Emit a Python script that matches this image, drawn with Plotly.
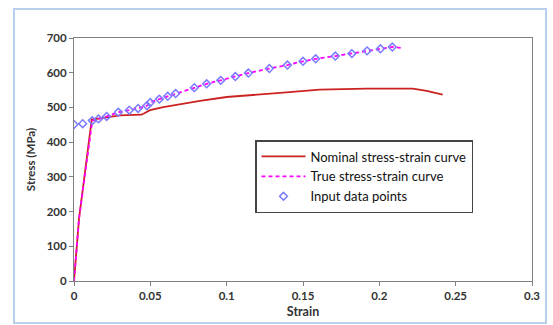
import plotly.graph_objects as go

# Nominal stress-strain curve
nom_strain = [0, 0.0033, 0.0116, 0.0214, 0.030, 0.0443, 0.0498, 0.0585, 0.0716, 0.0825, 0.10, 0.12, 0.135, 0.161, 0.1917, 0.222, 0.231, 0.2415]
nom_stress = [0, 180, 465, 471, 477, 479, 492, 501, 511, 519, 530, 538, 542, 551, 554, 554, 548, 537]

# True stress-strain curve
true_strain = [0, 0.0033, 0.012, 0.016, 0.0214, 0.029, 0.0362, 0.042, 0.0478, 0.050, 0.0559, 0.0614, 0.0666, 0.0788, 0.0869, 0.0961, 0.1057, 0.1142, 0.128, 0.1398, 0.150, 0.1583, 0.1712, 0.182, 0.192, 0.2007, 0.2085, 0.2157]
true_stress = [0, 180, 462, 467, 474, 486, 492, 497, 505, 514, 524, 532, 540, 557, 568, 578, 589, 599, 612, 622, 633, 640, 648, 655, 663, 669, 674, 671]

# Input data points
pts_strain = [0, 0.0057, 0.012, 0.016, 0.0214, 0.029, 0.0362, 0.042, 0.0478, 0.050, 0.0559, 0.0614, 0.0666, 0.0788, 0.0869, 0.0961, 0.1057, 0.1142, 0.128, 0.1398, 0.150, 0.1583, 0.1712, 0.182, 0.192, 0.2007, 0.2085]
pts_stress = [451, 453, 462, 467, 474, 486, 492, 497, 505, 514, 524, 532, 540, 557, 568, 578, 589, 599, 612, 622, 633, 640, 648, 655, 663, 669, 674]

x_ticks = [0, 0.05, 0.1, 0.15, 0.2, 0.25, 0.3]
x_tick_labels = ["0", "0.05", "0.1", "0.15", "0.2", "0.25", "0.3"]
y_ticks = [0, 100, 200, 300, 400, 500, 600, 700]
y_tick_labels = ["0", "100", "200", "300", "400", "500", "600", "700"]

fig = go.Figure()
fig.add_trace(go.Scatter(x=nom_strain, y=nom_stress, mode="lines",
                         name="Nominal stress-strain curve",
                         line=dict(color="#cc2222", width=1.8)))
fig.add_trace(go.Scatter(x=true_strain, y=true_stress, mode="lines",
                         name="True stress-strain curve",
                         line=dict(color="#ff00ff", width=1.8, dash="4px,3px")))
fig.add_trace(go.Scatter(x=pts_strain, y=pts_stress, mode="markers",
                         name="Input data points",
                         marker=dict(symbol="diamond-open", color="#7b7bff", size=6,
                                     line=dict(width=1.5, color="#7b7bff"))))

L, R, T, B = 74, 21, 38, 44
W, H = 553, 325
pw, ph = W - L - R, H - T - B

def px(x):
    return (x - L) / pw

def py(y):
    return (H - B - y) / ph

fig.add_shape(type="rect", xref="paper", yref="paper",
              x0=px(14), x1=px(546), y0=py(323), y1=py(9),
              line=dict(color="#b9cfee", width=2), fillcolor="rgba(0,0,0,0)", layer="above")

tickfont = dict(size=11.5, family="Lato, Liberation Sans, sans-serif", color="#333333")

fig.update_layout(
    width=W, height=H,
    margin=dict(l=L, r=R, t=T, b=B, autoexpand=False),
    paper_bgcolor="white", plot_bgcolor="white",
    font=dict(family="Lato, Liberation Sans, sans-serif", color="#222222"),
    showlegend=True,
    legend=dict(x=px(255), y=py(140), xanchor="left", yanchor="top",
                bordercolor="#444444", borderwidth=1.5, bgcolor="white",
                font=dict(size=13, color="#111111"),
                tracegroupgap=0, itemwidth=44),
    xaxis=dict(range=[0, 0.3], tickvals=x_ticks,
               ticktext=["<b>%s</b>" % t for t in x_tick_labels],
               showgrid=False, zeroline=False, showline=True, linecolor="#808080",
               linewidth=1, mirror=True, ticks="outside", ticklen=4, tickcolor="#808080",
               tickfont=tickfont, automargin=False,
               title=dict(text="<b>Strain</b>", font=dict(size=12.5, color="#333333"), standoff=6)),
    yaxis=dict(range=[0, 700], tickvals=y_ticks,
               ticktext=["<b>%s</b>" % t for t in y_tick_labels],
               showgrid=False, zeroline=False, showline=True, linecolor="#808080",
               linewidth=1, mirror=True, ticks="outside", ticklen=4, tickcolor="#808080",
               tickfont=tickfont, automargin=False,
               title=dict(text="<b>Stress (MPa)</b>", font=dict(size=11.5, color="#333333"), standoff=8)),
)

fig.write_html("out.html", config={"displayModeBar": False},
               post_script="document.body.style.margin='0';document.body.style.padding='0';")
